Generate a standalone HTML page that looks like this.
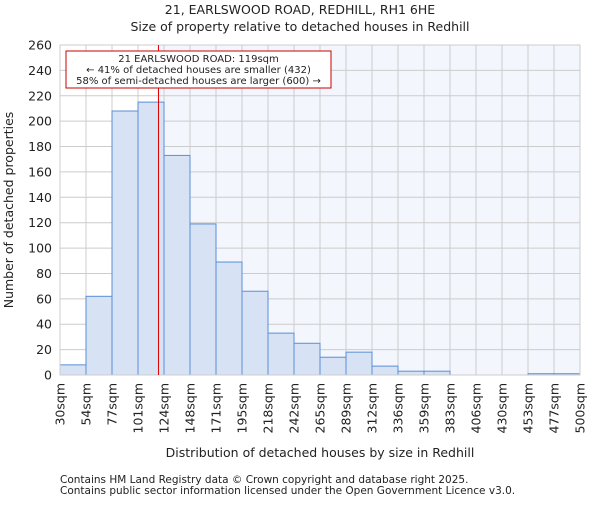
<!DOCTYPE html>
<html><head><meta charset="utf-8"><style>
body{margin:0;background:#fff;font-family:"Liberation Sans","DejaVu Sans",sans-serif}
svg text{font-family:"DejaVu Sans","Liberation Sans",sans-serif;fill:#222}
</style></head><body>
<svg id="c" width="600" height="500" xmlns="http://www.w3.org/2000/svg">
<text x="300" y="14" text-anchor="middle" font-size="12.5">21, EARLSWOOD ROAD, REDHILL, RH1 6HE</text>
<text x="300" y="31" text-anchor="middle" font-size="12.5">Size of property relative to detached houses in Redhill</text>
<g id="plot"></g>
<text x="320" y="457" text-anchor="middle" font-size="12.5">Distribution of detached houses by size in Redhill</text>
<text transform="translate(13,210) rotate(-90)" text-anchor="middle" font-size="12.5">Number of detached properties</text>
<text x="60" y="483" font-size="10.5" fill="#444">Contains HM Land Registry data © Crown copyright and database right 2025.</text>
<text x="60" y="494" font-size="10.5" fill="#444">Contains public sector information licensed under the Open Government Licence v3.0.</text>
</svg>
<script>
const binLabels=["30sqm","54sqm","77sqm","101sqm","124sqm","148sqm","171sqm","195sqm","218sqm","242sqm","265sqm","289sqm","312sqm","336sqm","359sqm","383sqm","406sqm","430sqm","453sqm","477sqm","500sqm"];
const counts=[8,62,208,215,173,119,89,66,33,25,14,18,7,3,3,0,0,0,1,1];
const yTicks=[0,20,40,60,80,100,120,140,160,180,200,220,240,260];
const propertySize=119;
const minX=30,maxX=500,maxY=260;
const L=60,R=580,T=45,B=375;
const NS="http://www.w3.org/2000/svg";
const g=document.getElementById('plot');
const bw=(R-L)/counts.length;
function xb(i){return L+i*bw;}
function xs(v){return L+(v-minX)/(maxX-minX)*(R-L);}
function y(v){return B-v/maxY*(B-T);}
function mk(t,a,p){const e=document.createElementNS(NS,t);for(const k in a)e.setAttribute(k,a[k]);(p||g).appendChild(e);return e;}
const px=xs(propertySize);
let bg=mk('rect',{x:L,y:T,width:R-L,height:B-T,fill:'#fff'});


let hl=mk('rect',{x:px,y:T,width:R-px,height:B-T,fill:'#f3f6fd'});


yTicks.forEach(t=>{
 let l=mk('line',{x1:L,x2:R,y1:y(t),y2:y(t),stroke:'#ccc','stroke-width':1});
 
 
 let tx=mk('text',{x:L-8,y:y(t)+4.5,'text-anchor':'end','font-size':'12.5'});
 tx.textContent=t;
 
 
});
binLabels.forEach((lab,i)=>{
 let l=mk('line',{x1:xb(i),x2:xb(i),y1:T,y2:B,stroke:'#ccc','stroke-width':1});
 
 
 let tx=mk('text',{transform:`translate(${xb(i)+4.5},${B+8}) rotate(-90)`,'text-anchor':'end','font-size':'12.5'});
 tx.textContent=lab;
 
 
});
counts.forEach((c,i)=>{
 let r=mk('rect',{x:xb(i),y:y(c),width:bw,height:B-y(c),fill:'#d7e2f4',stroke:'#5a8fd6','stroke-width':1});
 
 
});
let ax=mk('rect',{x:L,y:T,width:R-L,height:B-T,fill:'none',stroke:'#ccc'});


let pl=mk('line',{x1:px,x2:px,y1:T,y2:B,stroke:'#d00','stroke-width':1});


let box=mk('rect',{x:66,y:51,width:265,height:37,fill:'#fff',stroke:'#c00','stroke-width':1});


const lines=["21 EARLSWOOD ROAD: 119sqm","← 41% of detached houses are smaller (432)","58% of semi-detached houses are larger (600) →"];
lines.forEach((s,i)=>{
 let t=mk('text',{x:198.5,y:62+i*11,'text-anchor':'middle','font-size':'10'});
 t.textContent=s;
 
 
});
</script>
</body></html>
